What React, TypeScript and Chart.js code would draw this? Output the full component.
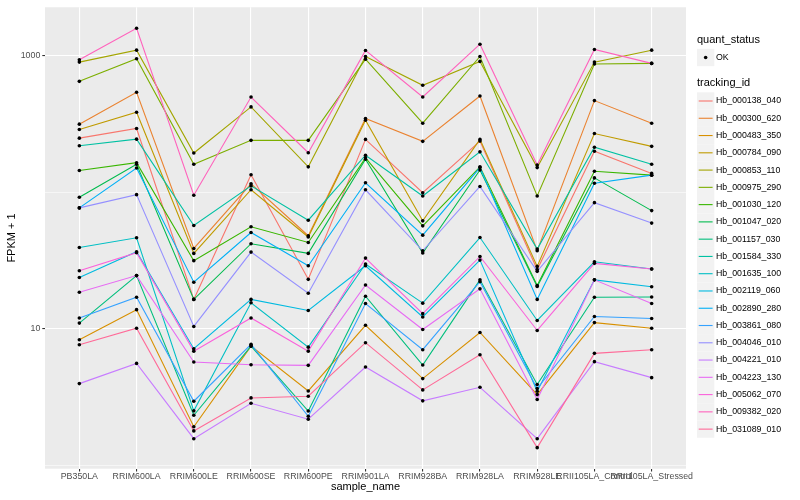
import { useEffect, useRef } from "react";
import { Chart, registerables } from "chart.js";

Chart.register(...registerables);

const categories = [
  "PB350LA", "RRIM600LA", "RRIM600LE", "RRIM600SE", "RRIM600PE", "RRIM901LA",
  "RRIM928BA", "RRIM928LA", "RRIM928LE", "RRII105LA_Control", "RRII105LA_Stressed",
];

const trackingIds = [
  "Hb_000138_040", "Hb_000300_620", "Hb_000483_350", "Hb_000784_090", "Hb_000853_110",
  "Hb_000975_290", "Hb_001030_120", "Hb_001047_020", "Hb_001157_030", "Hb_001584_330",
  "Hb_001635_100", "Hb_002119_060", "Hb_002890_280", "Hb_003861_080", "Hb_004046_010",
  "Hb_004221_010", "Hb_004223_130", "Hb_005062_070", "Hb_009382_020", "Hb_031089_010",
];

const seriesColors = [
  "#F8766D", "#EA8331", "#D89000", "#C09B00", "#A3A500",
  "#7CAE00", "#39B600", "#00BB4E", "#00BF7D", "#00C1A3",
  "#00BFC4", "#00BAE0", "#00B0F6", "#35A2FF", "#9590FF",
  "#C77CFF", "#E76BF3", "#FA62DB", "#FF62BC", "#FF6A98",
];

// FPKM + 1 values per tracking id, in category order
const hb000138_040 = [248, 292, 16.4, 134, 23.0, 243, 99.0, 236, 27.1, 199, 137];
const hb000300_620 = [314, 537, 38.7, 115, 47.9, 345, 235, 505, 37.2, 467, 319];
const hb000483_350 = [8.31, 13.8, 1.92, 7.47, 3.51, 10.6, 4.32, 9.40, 3.30, 11.1, 10.1];
const hb000784_090 = [287, 384, 35.6, 104, 46.9, 336, 61.6, 243, 28.6, 268, 216];
const hb000853_110 = [893, 1092, 193, 420, 153, 982, 604, 904, 151, 893, 1092];
const hb000975_290 = [646, 945, 160, 239, 239, 939, 319, 982, 93.7, 864, 874];
const hb001030_120 = [144, 164, 31.5, 55.7, 42.8, 178, 56.6, 153, 20.7, 142, 133];
const hb001047_020 = [91.7, 160, 16.4, 41.9, 35.6, 174, 35.8, 145, 20.4, 127, 73.2];
const hb001157_030 = [11.0, 24.5, 2.33, 7.47, 2.50, 17.3, 5.43, 22.8, 3.91, 17.0, 17.1];
const hb001584_330 = [218, 244, 56.9, 111, 62.3, 186, 93.7, 197, 38.3, 213, 160];
const hb001635_100 = [39.3, 46.3, 2.51, 15.5, 7.34, 29.8, 15.4, 46.5, 11.5, 30.9, 27.4];
const hb002119_060 = [23.7, 36.6, 7.15, 16.4, 13.6, 28.9, 12.2, 31.8, 3.49, 22.8, 20.3];
const hb002890_280 = [76.6, 150, 21.9, 50.6, 28.9, 117, 48.4, 151, 16.4, 116, 133];
const hb003861_080 = [12.0, 17.0, 2.95, 7.69, 2.29, 15.3, 7.03, 22.1, 3.65, 12.3, 11.9];
const hb004046_010 = [76.6, 95.8, 10.4, 36.4, 18.2, 104, 37.2, 110, 26.3, 83.7, 59.3];
const hb004221_010 = [3.97, 5.58, 1.57, 2.85, 2.18, 5.25, 2.97, 3.73, 1.57, 5.75, 4.39];
const hb004223_130 = [18.5, 24.5, 5.71, 5.46, 5.40, 20.9, 9.88, 19.6, 3.04, 22.8, 15.3];
const hb005062_070 = [26.6, 36.0, 6.86, 12.0, 6.86, 32.9, 12.9, 33.8, 9.72, 30.1, 27.4];
const hb009382_020 = [930, 1580, 94.8, 496, 194, 1087, 496, 1208, 158, 1105, 874];
const hb031089_010 = [7.64, 10.1, 1.79, 3.12, 3.21, 7.91, 3.57, 6.46, 1.35, 6.61, 7.03];

const seriesValues = [
  hb000138_040, hb000300_620, hb000483_350, hb000784_090, hb000853_110,
  hb000975_290, hb001030_120, hb001047_020, hb001157_030, hb001584_330,
  hb001635_100, hb002119_060, hb002890_280, hb003861_080, hb004046_010,
  hb004221_010, hb004223_130, hb005062_070, hb009382_020, hb031089_010,
];

const yTickValues = [1, 10, 100, 1000];
const yTickLabels = ["", "10", "", "1000"];
const yMajorTicks = [10, 1000];

const FONT = "'Liberation Sans', Arial, Helvetica, sans-serif";

export default function App() {
  const canvasRef = useRef<HTMLCanvasElement | null>(null);

  useEffect(() => {
    document.body.style.margin = "0";
    const canvas = canvasRef.current;
    if (!canvas) return;

    const lineSets = seriesValues.map((vals, i) => ({
      type: "line" as const,
      label: trackingIds[i],
      data: vals.map((v, j) => ({ x: j, y: v })),
      borderColor: seriesColors[i],
      backgroundColor: seriesColors[i],
      borderWidth: 1.1,
      pointRadius: 0,
      tension: 0,
      fill: false,
      order: 100 - i,
    }));
    const pointSet = {
      type: "line" as const,
      label: "points",
      data: seriesValues.flatMap((vals) => vals.map((v, j) => ({ x: j, y: v }))),
      showLine: false,
      pointRadius: 1.8,
      pointBackgroundColor: "#000000",
      pointBorderWidth: 0,
      borderColor: "#000000",
      order: 0,
    };

    const bgPlugin = {
      id: "panelBg",
      beforeDraw(chart: any) {
        const { ctx, chartArea } = chart;
        ctx.save();
        ctx.fillStyle = "#FFFFFF";
        ctx.fillRect(0, 0, chart.width, chart.height);
        ctx.fillStyle = "#EBEBEB";
        ctx.fillRect(chartArea.left, chartArea.top, chartArea.right - chartArea.left, chartArea.bottom - chartArea.top);
        ctx.restore();
      },
      afterDraw(chart: any) {
        const { ctx, chartArea } = chart;
        ctx.save();
        ctx.fillStyle = "#000000";
        ctx.font = `11px ${FONT}`;
        ctx.textAlign = "center";
        ctx.textBaseline = "middle";
        ctx.fillText("sample_name", (chartArea.left + chartArea.right) / 2, 487);
        ctx.save();
        ctx.translate(12, (chartArea.top + chartArea.bottom) / 2);
        ctx.rotate(-Math.PI / 2);
        ctx.fillText("FPKM + 1", 0, 0);
        ctx.restore();

        // legend
        const lx = 697;
        const key = 17.3;
        ctx.textAlign = "left";
        ctx.font = `11px ${FONT}`;
        ctx.fillText("quant_status", lx, 40);
        ctx.fillStyle = "#F2F2F2";
        ctx.fillRect(lx, 57.5 - key / 2, key, key);
        ctx.fillStyle = "#000000";
        ctx.beginPath();
        ctx.arc(lx + key / 2, 57.5, 1.8, 0, Math.PI * 2);
        ctx.fill();
        ctx.font = `8.8px ${FONT}`;
        ctx.fillText("OK", 716, 57.5);

        ctx.font = `11px ${FONT}`;
        ctx.fillText("tracking_id", lx, 83);
        trackingIds.forEach((id, i) => {
          const cy = 101 + i * 17.27;
          ctx.fillStyle = "#F2F2F2";
          ctx.fillRect(lx, cy - key / 2, key, key);
          ctx.strokeStyle = seriesColors[i];
          ctx.lineWidth = 1.1;
          ctx.beginPath();
          ctx.moveTo(lx + 1.7, cy);
          ctx.lineTo(lx + key - 1.7, cy);
          ctx.stroke();
          ctx.fillStyle = "#000000";
          ctx.font = `8.8px ${FONT}`;
          ctx.fillText(id, 716, cy);
        });
        ctx.restore();
      },
    };

    const chart = new Chart(canvas, {
      type: "line",
      data: { datasets: [...lineSets, pointSet] as any },
      options: {
        responsive: false,
        animation: false,
        events: [],
        layout: { padding: { top: 5.7, right: 114, left: 0, bottom: 0 } },
        plugins: { legend: { display: false }, tooltip: { enabled: false } },
        scales: {
          x: {
            type: "linear",
            min: -0.6,
            max: 10.6,
            bounds: "data",
            afterFit(scale: any) {
              scale.height = 31.3;
            },
            afterBuildTicks(scale: any) {
              scale.ticks = categories.map((_, i) => ({ value: i }));
            },
            border: { display: false },
            grid: {
              color: "#FFFFFF",
              lineWidth: 1.1,
              drawTicks: true,
              tickLength: 2.7,
              tickColor: "#333333",
              tickWidth: 1.1,
            },
            ticks: {
              autoSkip: false,
              maxRotation: 0,
              minRotation: 0,
              padding: 0,
              color: "#4D4D4D",
              font: { size: 8.8, family: FONT },
              callback: (v: any) => categories[Math.round(Number(v))] ?? "",
            },
          },
          y: {
            type: "logarithmic",
            min: 0.947,
            max: 2249,
            bounds: "data",
            afterFit(scale: any) {
              scale.width = 45;
            },
            afterBuildTicks(scale: any) {
              scale.ticks = yTickValues.map((v) => ({ value: v, major: yMajorTicks.includes(v) }));
            },
            border: { display: false },
            grid: {
              color: "#FFFFFF",
              lineWidth: (c: any) => (c.tick && yMajorTicks.includes(c.tick.value) ? 1.1 : 0.55),
              drawTicks: true,
              tickLength: 2.7,
              tickColor: (c: any) => (c.tick && yMajorTicks.includes(c.tick.value) ? "#333333" : "rgba(0,0,0,0)"),
              tickWidth: 1.1,
            },
            ticks: {
              autoSkip: false,
              padding: 2,
              color: "#4D4D4D",
              font: { size: 8.8, family: FONT },
              callback: (v: any) => {
                const idx = yTickValues.indexOf(Number(v));
                return idx >= 0 ? yTickLabels[idx] : "";
              },
            },
          },
        },
      },
      plugins: [bgPlugin],
    } as any);

    return () => chart.destroy();
  }, []);

  return (
    <div style={{ width: 800, height: 500 }}>
      <canvas ref={canvasRef} width={800} height={500} style={{ width: 800, height: 500, display: "block" }} />
    </div>
  );
}
